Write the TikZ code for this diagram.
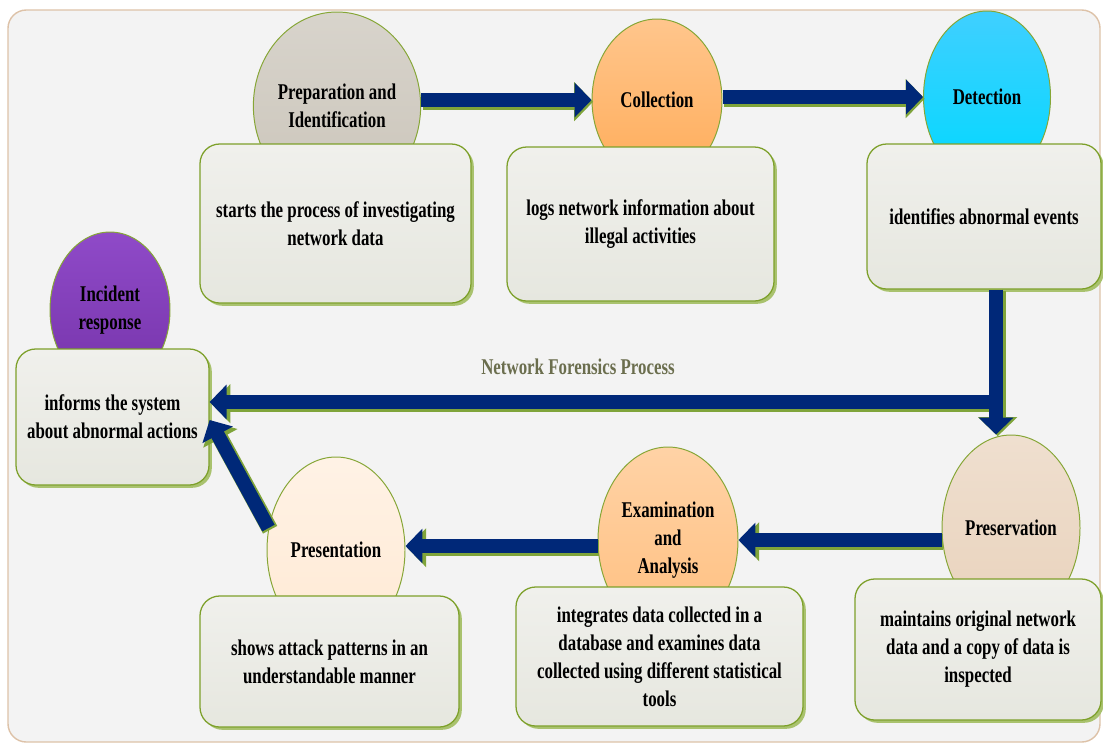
\documentclass[tikz,border=0pt]{standalone}
\usepackage{fontspec}
\setmainfont{Liberation Serif}[FakeStretch=0.75]
\usetikzlibrary{shapes.geometric, arrows.meta, shadows}

\definecolor{panelfill}{HTML}{F3F3F3}
\definecolor{panelline}{HTML}{DDC2A8}
\definecolor{stageline}{HTML}{86A636}
\definecolor{noteline}{HTML}{7DA02A}
\definecolor{notetop}{HTML}{F0F0EC}
\definecolor{notebottom}{HTML}{E6E7DF}
\definecolor{noteshadow}{HTML}{A9C26E}
\definecolor{flownavy}{HTML}{002878}
\definecolor{flowgreen}{HTML}{7FA43A}
\definecolor{titleolive}{HTML}{6B6E4E}
\definecolor{preptop}{HTML}{D8D4CC}
\definecolor{prepbottom}{HTML}{CBC5BA}
\definecolor{inctop}{HTML}{8F4AC8}
\definecolor{incbottom}{HTML}{7634AA}

\newcommand{\pxl}{0.025cm}

\tikzset{
  stagefont/.style={font=\bfseries\fontsize{16pt}{19.9pt}\selectfont},
  stage/.style 2 args={ellipse, draw=stageline, line width=0.7pt,
    minimum width=#1*\pxl, minimum height=#2*\pxl, inner sep=0pt,
    align=center, stagefont},
  note/.style 2 args={rectangle, rounded corners=14pt, draw=noteline,
    line width=0.9pt, top color=notetop, bottom color=notebottom,
    minimum width=#1*\pxl, minimum height=#2*\pxl, align=center, stagefont,
    drop shadow={shadow xshift=2pt, shadow yshift=-2pt, fill=noteshadow, opacity=1}},
  flow/.style={draw=flownavy, line width=10pt, -{Triangle[width=24pt,length=12pt]},
    preaction={draw=flowgreen, line width=11.5pt, -{Triangle[width=27pt,length=13.5pt]},
      transform canvas={shift={(1.2pt,-1.2pt)}}}}
}

\begin{document}
\begin{tikzpicture}[x=0.025cm, y=-0.025cm]
  \useasboundingbox (0,0) rectangle (1103,745);
  \draw[panelline, line width=1pt, fill=panelfill, rounded corners=13pt] (8,10) rectangle (1100,742);

  % stages and their notes
  \node[stage={154}{188}, top color=preptop, bottom color=prepbottom] (prep) at (337,106) {Preparation and\\Identification};
  \node[note={271}{159}] (prepbox) at (335.5,223.5) {starts the process of investigating\\network data};

  \node[stage={130}{162}, top color=orange!45, bottom color=orange!65!white] (coll) at (657,100) {Collection};
  \node[note={267}{154}] (collbox) at (640.5,224) {logs network information about\\illegal activities};

  \node[stage={127}{172}, top color=cyan!75!blue!75!white, bottom color=cyan!85!blue] (det) at (987,97) {Detection};
  \node[note={234}{145}] (detbox) at (984,216.5) {identifies abnormal events};

  \node[stage={120}{156}, top color=inctop, bottom color=incbottom] (inc) at (110,310) {Incident\\response};
  \node[note={193}{136}] (incbox) at (112.5,417) {informs the system\\about abnormal actions};

  \node[stage={138}{186}, top color=brown!25, bottom color=brown!35] (pres) at (1011,528) {Preservation};
  \node[note={246}{141}] (presbox) at (978,649.5) {maintains original network\\data and a copy of data is\\inspected};

  \node[stage={140}{186}, top color=orange!35, bottom color=orange!50] (exam) at (668,540) {Examination\\and\\Analysis};
  \node[note={287}{139}] (exambox) at (659.5,656.5) {integrates data collected in a\\database and examines data\\collected using different statistical\\tools};

  \node[stage={138}{186}, top color=orange!10, bottom color=orange!17] (present) at (336,550) {Presentation};
  \node[note={259}{131}] (presentbox) at (329.5,661.5) {shows attack patterns in an\\understandable manner};

  \node[stagefont, text=titleolive] (title) at (578,367) {Network Forensics Process};

  % flow arrows
  \coordinate (split) at (996,402);
  \draw[flow] (prep.east |- 0,100) -- (coll.west |- 0,100);
  \draw[flow] (coll.east |- 0,97) -- (det.west);
  \draw[flow] (split) -- (split -| incbox.east);
  \draw[flow] (split |- detbox.south) -- (split |- pres.north);
  \draw[flow] (pres.west |- 0,540) -- (exam.east |- 0,540);
  \draw[flow] (exam.west |- 0,546) -- (present.east |- 0,546);
  \draw[flow] (present.162) -- (incbox.east |- 0,420);
\end{tikzpicture}
\end{document}
